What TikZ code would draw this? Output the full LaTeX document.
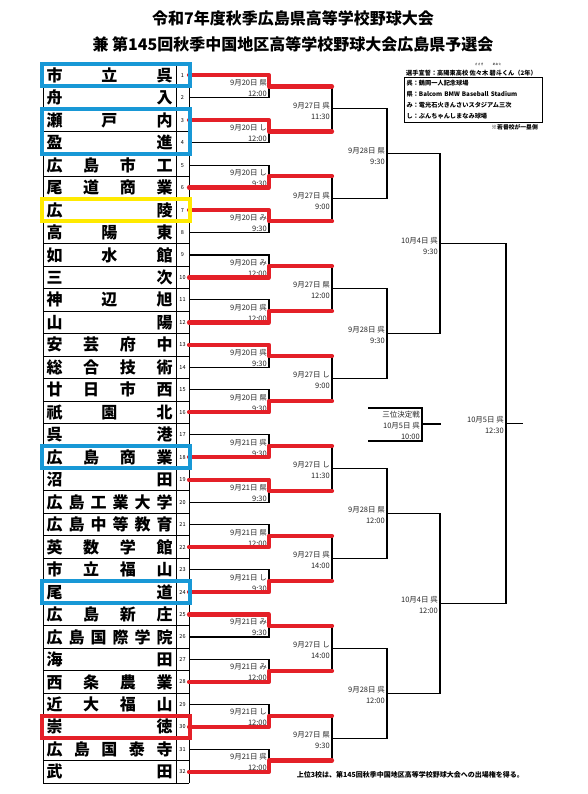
\documentclass[tikz,border=0pt]{standalone}
\usepackage{fontspec}
\setmainfont{Noto Sans CJK JP}
\usetikzlibrary{positioning}
\definecolor{winred}{RGB}{228,32,40}
\definecolor{seedblue}{RGB}{24,152,214}
\definecolor{seedyellow}{RGB}{255,234,0}
\tikzset{
  team/.style={text width=126pt, inner sep=0pt, font=\fontsize{16}{16}\selectfont\bfseries},
  num/.style={inner sep=0pt, font=\fontsize{5.5}{6}\selectfont},
  date/.style={anchor=east, xshift=-2pt, yshift=-1.8pt, inner sep=0pt, align=right,
    font=\fontsize{7.5}{11}\selectfont, text=black!85},
  small/.style={inner sep=0pt, font=\fontsize{6.2}{11}\selectfont\bfseries},
  title/.style={inner sep=0pt, font=\fontsize{16}{16}\selectfont\bfseries},
  rule/.style={line width=0.9pt},
  win/.style={winred, line width=4.2pt, line cap=round, line join=round},
  seed/.style={line width=4pt},
}
\begin{document}
\begin{tikzpicture}[x=1pt, y=-1pt]
  \fill[white] (0,0) rectangle (587,794);
  \useasboundingbox (0,0) rectangle (587,794);

  % heading
  \node[title] (title1) at (293,18) {令和7年度秋季広島県高等学校野球大会};
  \node[title] (title2) at (293,44) {兼 第145回秋季中国地区高等学校野球大会広島県予選会};

  % slots and match points
  \coordinate (namecol) at (109.5,0);
  \coordinate (numcol) at (182.5,0);
  \foreach \i in {1,...,32}
    \coordinate (s\i) at (189,{64+22.47*(\i-0.5)});
  \foreach \k in {1,...,16}
    \coordinate (a\k) at (269,{64+22.47*(2*\k-1)});
  \foreach \k in {1,...,8}
    \coordinate (b\k) at (332,{64+22.47*(4*\k-2)});
  \foreach \k in {1,...,4}
    \coordinate (c\k) at (387,{64+22.47*(8*\k-4)});
  \coordinate (d1) at (440,{64+22.47*8});
  \coordinate (d2) at (440,{64+22.47*24});
  \coordinate (fin) at (506,{64+22.47*16});
  \coordinate (finout) at (523,{64+22.47*16});
  \coordinate (tpa) at (368,408);
  \coordinate (tpb) at (368,441);
  \coordinate (tp) at (422,424);
  \coordinate (tpout) at (441,424);

  % table
  \foreach \k in {0,...,32}
    \draw[rule] (43,{64+22.47*\k}) -- (189,{64+22.47*\k});
  \draw[rule] (43,64) -- (43,783) (176,64) -- (176,783) (189,64) -- (189,783);
  \foreach \i in {1,...,32}
    \node[num] (k\i) at (numcol |- s\i) {\i};
  \path
    (namecol |- s1) node[team] (n1) {市\hfill 立\hfill 呉}
    (namecol |- s2) node[team] (n2) {舟\hfill 入}
    (namecol |- s3) node[team] (n3) {瀬\hfill 戸\hfill 内}
    (namecol |- s4) node[team] (n4) {盈\hfill 進}
    (namecol |- s5) node[team] (n5) {広\hfill 島\hfill 市\hfill 工}
    (namecol |- s6) node[team] (n6) {尾\hfill 道\hfill 商\hfill 業}
    (namecol |- s7) node[team] (n7) {広\hfill 陵}
    (namecol |- s8) node[team] (n8) {高\hfill 陽\hfill 東}
    (namecol |- s9) node[team] (n9) {如\hfill 水\hfill 館}
    (namecol |- s10) node[team] (n10) {三\hfill 次}
    (namecol |- s11) node[team] (n11) {神\hfill 辺\hfill 旭}
    (namecol |- s12) node[team] (n12) {山\hfill 陽}
    (namecol |- s13) node[team] (n13) {安\hfill 芸\hfill 府\hfill 中}
    (namecol |- s14) node[team] (n14) {総\hfill 合\hfill 技\hfill 術}
    (namecol |- s15) node[team] (n15) {廿\hfill 日\hfill 市\hfill 西}
    (namecol |- s16) node[team] (n16) {祇\hfill 園\hfill 北}
    (namecol |- s17) node[team] (n17) {呉\hfill 港}
    (namecol |- s18) node[team] (n18) {広\hfill 島\hfill 商\hfill 業}
    (namecol |- s19) node[team] (n19) {沼\hfill 田}
    (namecol |- s20) node[team] (n20) {広\hfill 島\hfill 工\hfill 業\hfill 大\hfill 学}
    (namecol |- s21) node[team] (n21) {広\hfill 島\hfill 中\hfill 等\hfill 教\hfill 育}
    (namecol |- s22) node[team] (n22) {英\hfill 数\hfill 学\hfill 館}
    (namecol |- s23) node[team] (n23) {市\hfill 立\hfill 福\hfill 山}
    (namecol |- s24) node[team] (n24) {尾\hfill 道}
    (namecol |- s25) node[team] (n25) {広\hfill 島\hfill 新\hfill 庄}
    (namecol |- s26) node[team] (n26) {広\hfill 島\hfill 国\hfill 際\hfill 学\hfill 院}
    (namecol |- s27) node[team] (n27) {海\hfill 田}
    (namecol |- s28) node[team] (n28) {西\hfill 条\hfill 農\hfill 業}
    (namecol |- s29) node[team] (n29) {近\hfill 大\hfill 福\hfill 山}
    (namecol |- s30) node[team] (n30) {崇\hfill 徳}
    (namecol |- s31) node[team] (n31) {広\hfill 島\hfill 国\hfill 泰\hfill 寺}
    (namecol |- s32) node[team] (n32) {武\hfill 田};

  % bracket
  \begin{scope}[line width=1.1pt]
    \draw (s1) -| (a1) |- (s2);
    \draw (s3) -| (a2) |- (s4);
    \draw (s5) -| (a3) |- (s6);
    \draw (s7) -| (a4) |- (s8);
    \draw (s9) -| (a5) |- (s10);
    \draw (s11) -| (a6) |- (s12);
    \draw (s13) -| (a7) |- (s14);
    \draw (s15) -| (a8) |- (s16);
    \draw (s17) -| (a9) |- (s18);
    \draw (s19) -| (a10) |- (s20);
    \draw (s21) -| (a11) |- (s22);
    \draw (s23) -| (a12) |- (s24);
    \draw (s25) -| (a13) |- (s26);
    \draw (s27) -| (a14) |- (s28);
    \draw (s29) -| (a15) |- (s30);
    \draw (s31) -| (a16) |- (s32);
    \draw (a1) -| (b1) |- (a2);
    \draw (a3) -| (b2) |- (a4);
    \draw (a5) -| (b3) |- (a6);
    \draw (a7) -| (b4) |- (a8);
    \draw (a9) -| (b5) |- (a10);
    \draw (a11) -| (b6) |- (a12);
    \draw (a13) -| (b7) |- (a14);
    \draw (a15) -| (b8) |- (a16);
    \draw (b1) -| (c1) |- (b2);
    \draw (b3) -| (c2) |- (b4);
    \draw (b5) -| (c3) |- (b6);
    \draw (b7) -| (c4) |- (b8);
    \draw (c1) -| (d1) |- (c2);
    \draw (c3) -| (d2) |- (c4);
    \draw (d1) -| (fin) |- (d2);
    \draw (fin) -- (finout);
    \draw (tpa) -| (tp) |- (tpb);
    \draw (tp) -- (tpout);
  \end{scope}

  % dates
  \node[date] (l-a1) at (a1) {9月20日 県\\12:00};
  \node[date] (l-a2) at (a2) {9月20日 し\\12:00};
  \node[date] (l-a3) at (a3) {9月20日 し\\9:30};
  \node[date] (l-a4) at (a4) {9月20日 み\\9:30};
  \node[date] (l-a5) at (a5) {9月20日 み\\12:00};
  \node[date] (l-a6) at (a6) {9月20日 呉\\12:00};
  \node[date] (l-a7) at (a7) {9月20日 呉\\9:30};
  \node[date] (l-a8) at (a8) {9月20日 県\\9:30};
  \node[date] (l-a9) at (a9) {9月21日 呉\\9:30};
  \node[date] (l-a10) at (a10) {9月21日 県\\9:30};
  \node[date] (l-a11) at (a11) {9月21日 県\\12:00};
  \node[date] (l-a12) at (a12) {9月21日 し\\9:30};
  \node[date] (l-a13) at (a13) {9月21日 み\\9:30};
  \node[date] (l-a14) at (a14) {9月21日 み\\12:00};
  \node[date] (l-a15) at (a15) {9月21日 し\\12:00};
  \node[date] (l-a16) at (a16) {9月21日 呉\\12:00};
  \node[date] (l-b1) at (b1) {9月27日 呉\\11:30};
  \node[date] (l-b2) at (b2) {9月27日 呉\\9:00};
  \node[date] (l-b3) at (b3) {9月27日 県\\12:00};
  \node[date] (l-b4) at (b4) {9月27日 し\\9:00};
  \node[date] (l-b5) at (b5) {9月27日 し\\11:30};
  \node[date] (l-b6) at (b6) {9月27日 呉\\14:00};
  \node[date] (l-b7) at (b7) {9月27日 し\\14:00};
  \node[date] (l-b8) at (b8) {9月27日 県\\9:30};
  \node[date] (l-c1) at (c1) {9月28日 県\\9:30};
  \node[date] (l-c2) at (c2) {9月28日 呉\\9:30};
  \node[date] (l-c3) at (c3) {9月28日 県\\12:00};
  \node[date] (l-c4) at (c4) {9月28日 呉\\12:00};
  \node[date] (l-d1) at (d1) {10月4日 呉\\9:30};
  \node[date] (l-d2) at (d2) {10月4日 呉\\12:00};
  \node[date] (l-fin) at (fin) {10月5日 呉\\12:30};
  \node[date, yshift=0pt] (l-tp) at (tp) {三位決定戦\\10月5日 呉\\10:00};

  % results so far
  \draw[win] (s1) -| (a1) -- (a1 -| b1);
  \draw[win] (s3) -| (a2) -- (a2 -| b1);
  \draw[win] (s6) -| (a3) -- (a3 -| b2);
  \draw[win] (s7) -| (a4) -- (a4 -| b2);
  \draw[win] (s10) -| (a5) -- (a5 -| b3);
  \draw[win] (s12) -| (a6) -- (a6 -| b3);
  \draw[win] (s13) -| (a7) -- (a7 -| b4);
  \draw[win] (s16) -| (a8) -- (a8 -| b4);
  \draw[win] (s18) -| (a9) -- (a9 -| b5);
  \draw[win] (s19) -| (a10) -- (a10 -| b5);
  \draw[win] (s22) -| (a11) -- (a11 -| b6);
  \draw[win] (s24) -| (a12) -- (a12 -| b6);
  \draw[win] (s25) -| (a13) -- (a13 -| b7);
  \draw[win] (s28) -| (a14) -- (a14 -| b7);
  \draw[win] (s30) -| (a15) -- (a15 -| b8);
  \draw[win] (s32) -| (a16) -- (a16 -| b8);

  % seeds
  \draw[seed, seedblue] (42,{64+22.47*0}) rectangle (190,{64+22.47*1});
  \draw[seed, seedblue] (42,{64+22.47*2}) rectangle (190,{64+22.47*4});
  \draw[seed, seedyellow] (42,{64+22.47*6}) rectangle (190,{64+22.47*7});
  \draw[seed, seedblue] (42,{64+22.47*17}) rectangle (190,{64+22.47*18});
  \draw[seed, seedblue] (42,{64+22.47*23}) rectangle (190,{64+22.47*24});
  \draw[seed, winred] (42,{64+22.47*29}) rectangle (190,{64+22.47*30});

  % notes
  \node[small, anchor=west] (oath) at (406,73) {選手宣誓：高陽東高校 佐々木 碧斗くん（2年）};
  \node[inner sep=0pt, font=\fontsize{3}{3}\selectfont] (ruby1) at (479,64) {ささき};
  \node[inner sep=0pt, font=\fontsize{3}{3}\selectfont] (ruby2) at (497,64) {あおと};
  \node[small, draw, line width=1.1pt, anchor=north west, text width=134pt,
    inner xsep=2pt, inner ysep=1pt, minimum height=45pt, align=left] (venues) at (404,77)
    {呉：鶴岡一人記念球場\\県：Balcom BMW Baseball Stadium\\み：電光石火きんさいスタジアム三次\\し：ぶんちゃんしまなみ球場};
  \node[small, anchor=east, font=\fontsize{5.8}{6}\selectfont\bfseries] (side) at (538,127) {※若番校が一塁側};
  \node[small, anchor=east, font=\fontsize{7}{8}\selectfont\bfseries] (foot) at (524,775)
    {上位3校は、第145回秋季中国地区高等学校野球大会への出場権を得る。};
\end{tikzpicture}
\end{document}
